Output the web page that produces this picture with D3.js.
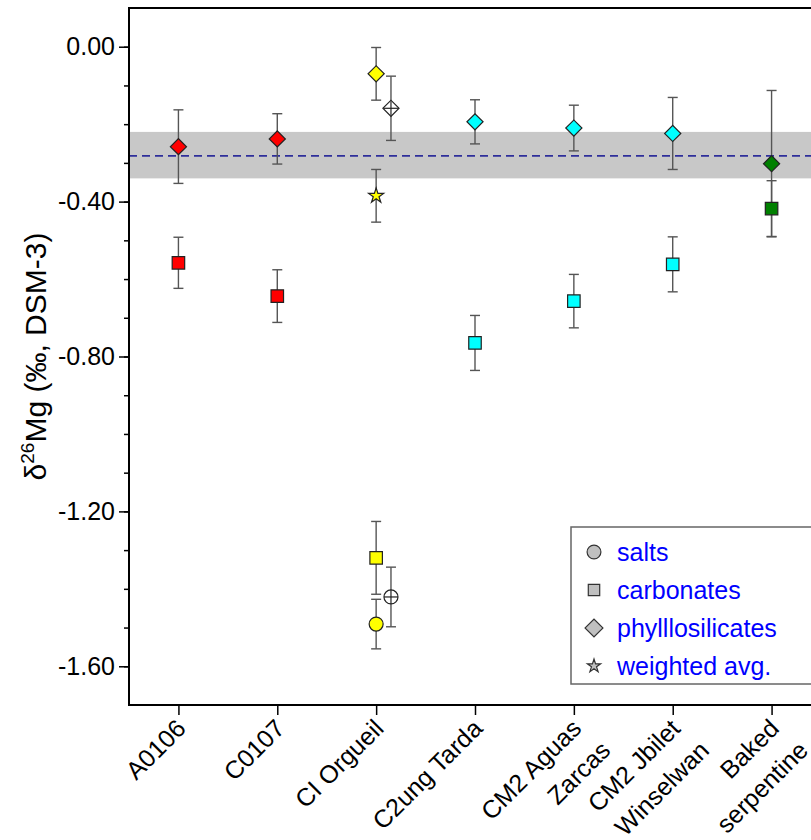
<!DOCTYPE html>
<html>
<head>
<meta charset="utf-8">
<script src="https://cdn.jsdelivr.net/npm/d3@7"></script>
<style>
  body { margin: 0; background: #fff; }
  svg text { font-family: "Liberation Sans", Arial, sans-serif; }
</style>
</head>
<body>
<div class="container"></div>
<script>
var svgWidth = 811;
var svgHeight = 840;

// categories and their tick labels (line breaks as in the original)
var categories = ["A0106", "C0107", "CI Orgueil", "C2ung Tarda", "CM2 Aguas Zarcas", "CM2 Jbilet Winselwan", "Baked serpentine"];
var categoryLabels = [["A0106"], ["C0107"], ["CI Orgueil"], ["C2ung Tarda"], ["CM2 Aguas", "Zarcas"], ["CM2 Jbilet", "Winselwan"], ["Baked", "serpentine"]];
var categoryColors = ["#ff0000", "#ff0000", "#ffff00", "#00ffff", "#00ffff", "#00ffff", "#008000"];

// delta 26Mg values and 2SD error per category (null = no data)
var saltsValues = [null, null, -1.491, null, null, null, null];
var saltsErrors = [null, null, 0.064, null, null, null, null];
var carbonatesValues = [-0.558, -0.644, -1.320, -0.765, -0.657, -0.562, -0.418];
var carbonatesErrors = [0.066, 0.068, 0.094, 0.071, 0.069, 0.071, 0.072];
var phylloValues = [-0.258, -0.238, -0.070, -0.194, -0.210, -0.224, -0.302];
var phylloErrors = [0.095, 0.065, 0.068, 0.057, 0.059, 0.093, 0.189];
var weightedValues = [null, null, -0.385, null, null, null, null];
var weightedErrors = [null, null, 0.068, null, null, null, null];

// open (crossed) symbols next to CI Orgueil
var litPhylloValues = [null, null, -0.159, null, null, null, null];
var litPhylloErrors = [null, null, 0.083, null, null, null, null];
var litSaltsValues = [null, null, -1.421, null, null, null, null];
var litSaltsErrors = [null, null, 0.077, null, null, null, null];

// reference value with its grey band
var refMean = -0.282;
var refLow = -0.340;
var refHigh = -0.220;

var yMajorTicks = [-1.6, -1.2, -0.8, -0.4, 0];
var yMinorTicks = d3.range(-16, 1).map(d => d / 10);

var legendLabels = ["salts", "carbonates", "phylllosilicates", "weighted avg."];

var margin = { top: 8, right: -10, bottom: 135, left: 129 };
var width = svgWidth - margin.left - margin.right;
var height = svgHeight - margin.top - margin.bottom;

var svg = d3.select(".container")
  .append("svg")
  .attr("width", svgWidth)
  .attr("height", svgHeight);

var chartGroup = svg.append("g")
  .attr("transform", `translate(${margin.left}, ${margin.top})`);

var xScale = d3.scaleLinear().domain([-0.5, 6.5]).range([0, width]);
var yScale = d3.scaleLinear().domain([-1.7, 0.1]).range([height, 0]);

// grey band + dashed mean line
chartGroup.append("rect")
  .attr("x", 0)
  .attr("width", width)
  .attr("y", yScale(refHigh))
  .attr("height", yScale(refLow) - yScale(refHigh))
  .attr("fill", "#c8c8c8");

chartGroup.append("line")
  .attr("x1", 0).attr("x2", width)
  .attr("y1", yScale(refMean)).attr("y2", yScale(refMean))
  .attr("stroke", "#2e2e9a")
  .attr("stroke-width", 1.6)
  .attr("stroke-dasharray", "8,5");

// axes
var leftAxis = d3.axisLeft(yScale)
  .tickValues(yMajorTicks)
  .tickSize(10)
  .tickPadding(4)
  .tickFormat(d => d.toFixed(2));
var leftMinor = d3.axisLeft(yScale)
  .tickValues(yMinorTicks)
  .tickSize(5)
  .tickFormat("");
var bottomAxis = d3.axisBottom(xScale)
  .tickValues(d3.range(categories.length))
  .tickSize(10)
  .tickFormat("");

chartGroup.append("g").call(leftMinor)
  .call(g => g.select(".domain").remove())
  .selectAll("line").attr("stroke-width", 1.5);

var yAxis = chartGroup.append("g").call(leftAxis);
yAxis.select(".domain").remove();
yAxis.selectAll("line").attr("stroke-width", 1.5);
yAxis.selectAll("text")
  .attr("font-size", 25)
  .attr("fill", "#000");

var xAxis = chartGroup.append("g")
  .attr("transform", `translate(0, ${height})`)
  .call(bottomAxis);
xAxis.select(".domain").remove();
xAxis.selectAll("line").attr("stroke-width", 1.5);

// frame
chartGroup.append("rect")
  .attr("width", width)
  .attr("height", height)
  .attr("fill", "none")
  .attr("stroke", "#000")
  .attr("stroke-width", 2);

// rotated category labels
categoryLabels.forEach(function(lines, i) {
  var t = chartGroup.append("text")
    .attr("transform", `translate(${xScale(i) + 9}, ${height + 25}) rotate(-45)`)
    .attr("text-anchor", "end")
    .attr("font-size", 25)
    .attr("fill", "#000");
  lines.forEach(function(line, j) {
    t.append("tspan")
      .attr("x", j === 0 ? 0 : 5)
      .attr("dy", j === 0 ? 0 : 36)
      .text(line);
  });
});

// y axis title
var yTitle = svg.append("text")
  .attr("transform", `translate(46, ${margin.top + height / 2}) rotate(-90)`)
  .attr("text-anchor", "middle")
  .attr("font-size", 30)
  .attr("fill", "#000");
yTitle.append("tspan").text("\u03b4");
yTitle.append("tspan").attr("font-size", 19).attr("dy", -12).text("26");
yTitle.append("tspan").attr("dy", 12).text("Mg (\u2030, DSM-3)");

// symbols
var circleSym = d3.symbol().type(d3.symbolCircle).size(154);
var squareSym = d3.symbol().type(d3.symbolSquare).size(156);
var diamondSym = d3.symbol().type(d3.symbolSquare).size(130);
var starSym = d3.symbol().type(d3.symbolStar).size(70);

function buildPoints(values, errors, offset) {
  var pts = [];
  values.forEach(function(v, i) {
    if (v !== null) pts.push({ i: i + offset, v: v, e: errors[i], color: categoryColors[i] });
  });
  return pts;
}

function drawErrors(points) {
  var g = chartGroup.append("g").attr("stroke", "#555").attr("stroke-width", 1.4);
  points.forEach(function(p) {
    var cx = xScale(p.i);
    var y1 = yScale(p.v + p.e), y2 = yScale(p.v - p.e);
    g.append("line").attr("x1", cx).attr("x2", cx).attr("y1", y1).attr("y2", y2);
    g.append("line").attr("x1", cx - 5).attr("x2", cx + 5).attr("y1", y1).attr("y2", y1);
    g.append("line").attr("x1", cx - 5).attr("x2", cx + 5).attr("y1", y2).attr("y2", y2);
  });
}

function drawMarkers(points, sym, rotate, open) {
  chartGroup.append("g").selectAll("path")
    .data(points)
    .enter()
    .append("path")
    .attr("d", sym)
    .attr("transform", d => `translate(${xScale(d.i)}, ${yScale(d.v)})` + (rotate ? " rotate(45)" : ""))
    .attr("fill", d => open ? "#fff" : d.color)
    .attr("stroke", "#222")
    .attr("stroke-width", 1.2);
  if (open) {
    var g = chartGroup.append("g").attr("stroke", "#222").attr("stroke-width", 1.2);
    points.forEach(function(d) {
      var cx = xScale(d.i), cy = yScale(d.v);
      g.append("line").attr("x1", cx - 7).attr("x2", cx + 7).attr("y1", cy).attr("y2", cy);
      g.append("line").attr("x1", cx).attr("x2", cx).attr("y1", cy - 7).attr("y2", cy + 7);
    });
  }
}

var saltsPts = buildPoints(saltsValues, saltsErrors, 0);
var carbPts = buildPoints(carbonatesValues, carbonatesErrors, 0);
var phylloPts = buildPoints(phylloValues, phylloErrors, 0);
var weightedPts = buildPoints(weightedValues, weightedErrors, 0);
var litPhylloPts = buildPoints(litPhylloValues, litPhylloErrors, 0.15);
var litSaltsPts = buildPoints(litSaltsValues, litSaltsErrors, 0.15);

[saltsPts, carbPts, phylloPts, weightedPts, litPhylloPts, litSaltsPts].forEach(drawErrors);

drawMarkers(carbPts, squareSym, false, false);
drawMarkers(saltsPts, circleSym, false, false);
drawMarkers(phylloPts, diamondSym, true, false);
drawMarkers(weightedPts, starSym, false, false);
drawMarkers(litPhylloPts, diamondSym, true, true);
drawMarkers(litSaltsPts, circleSym, false, true);

// legend
var legend = svg.append("g").attr("transform", "translate(571, 527)");
legend.append("rect")
  .attr("width", 260)
  .attr("height", 157)
  .attr("fill", "#fff")
  .attr("stroke", "#666")
  .attr("stroke-width", 1.5);

var legendSyms = [
  d3.symbol().type(d3.symbolCircle).size(150),
  d3.symbol().type(d3.symbolSquare).size(130),
  d3.symbol().type(d3.symbolSquare).size(160),
  d3.symbol().type(d3.symbolStar).size(55)
];
legendLabels.forEach(function(label, i) {
  var cy = 25 + i * 38;
  legend.append("path")
    .attr("d", legendSyms[i]())
    .attr("transform", `translate(23, ${cy})` + (i === 2 ? " rotate(45)" : ""))
    .attr("fill", "#c0c0c0")
    .attr("stroke", "#333")
    .attr("stroke-width", 1.2);
  legend.append("text")
    .attr("x", 46)
    .attr("y", cy)
    .attr("dy", "0.35em")
    .attr("font-size", 25)
    .attr("fill", "#0000ff")
    .text(label);
});
</script>
</body>
</html>
